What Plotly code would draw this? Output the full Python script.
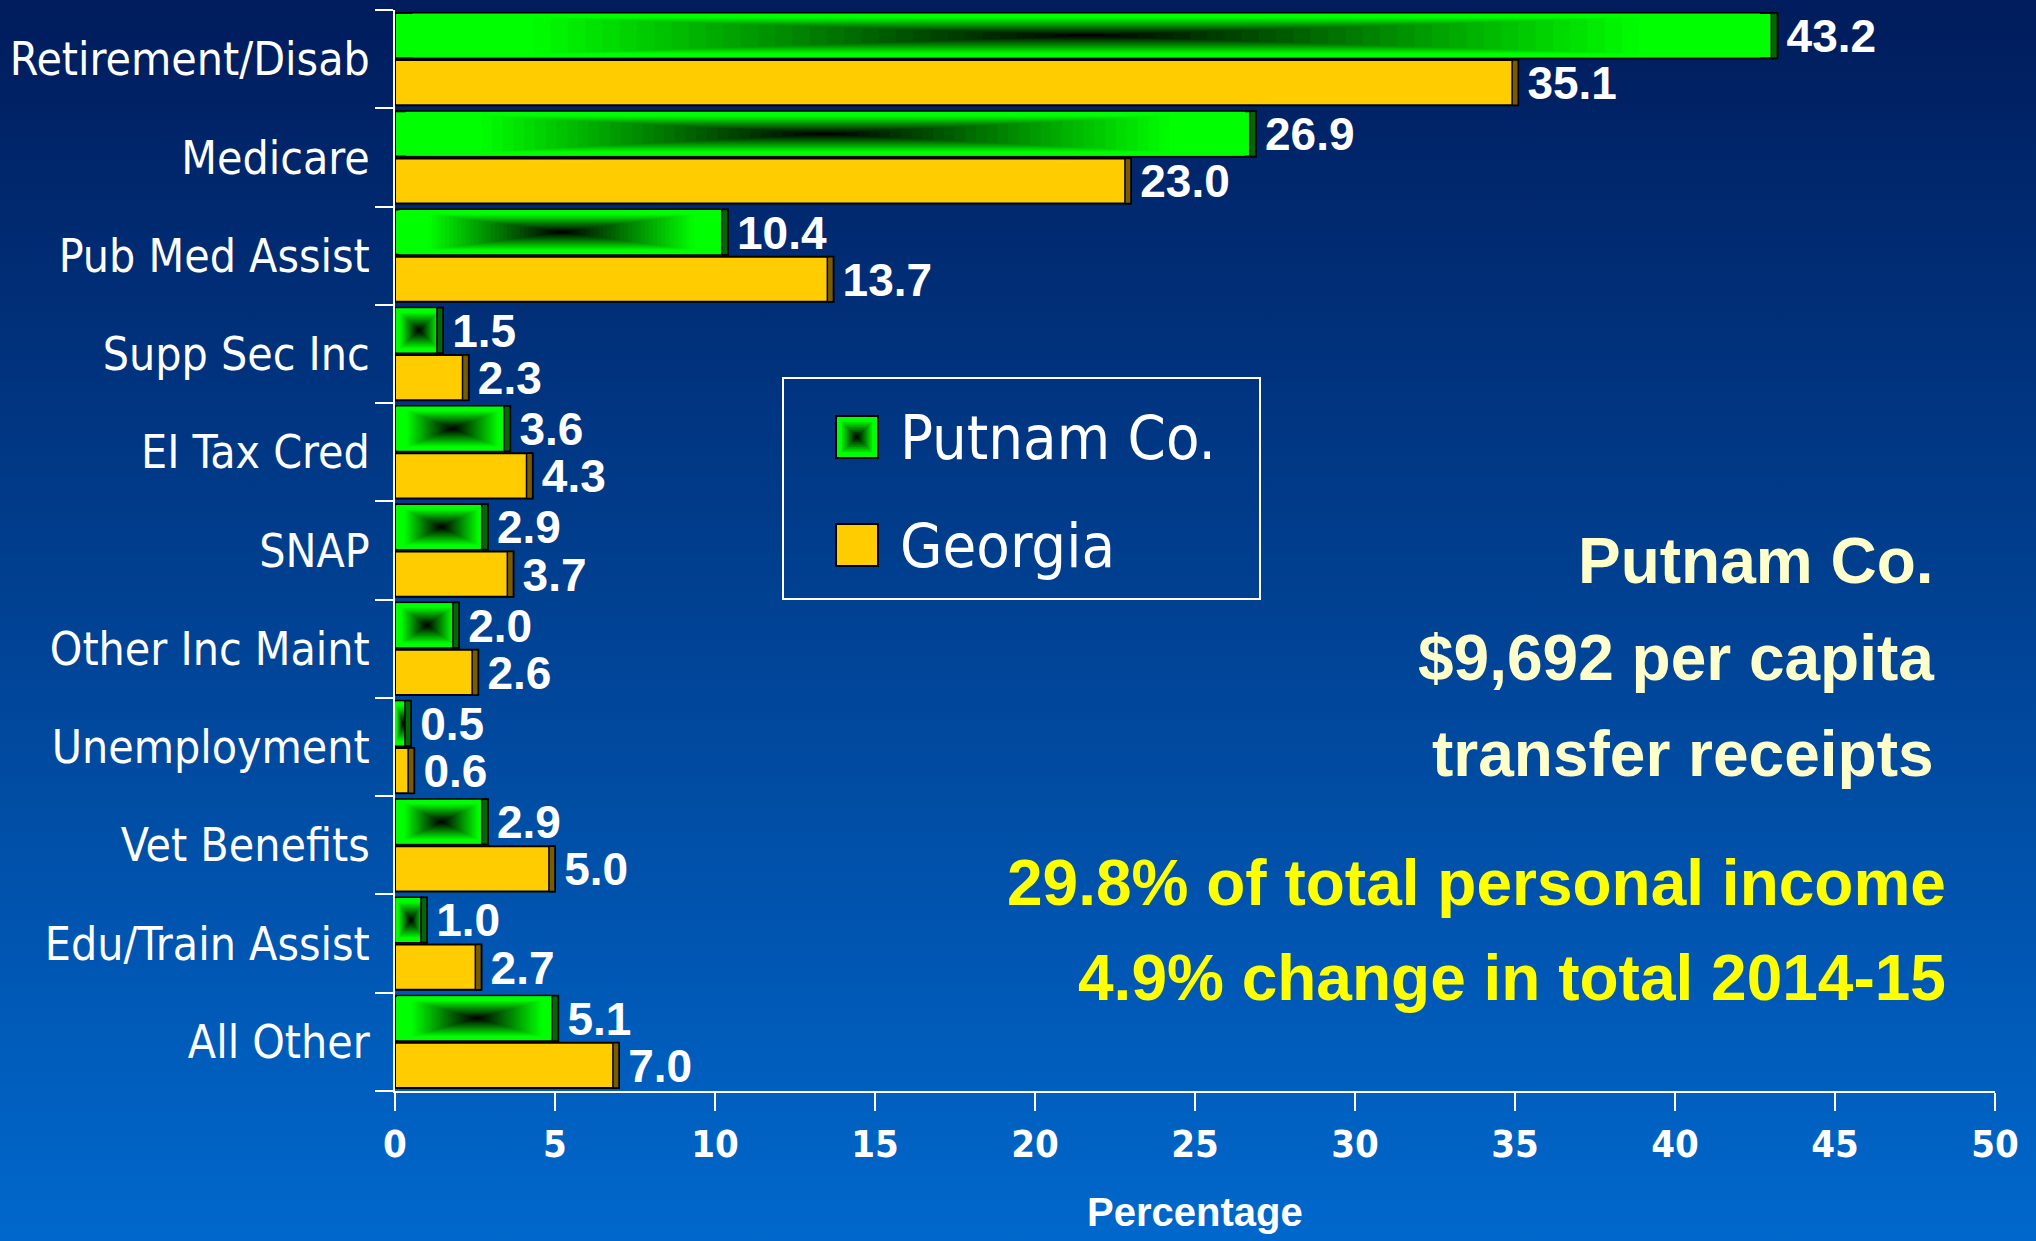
import base64
import plotly.graph_objects as go

# ---- data ----
categories = ['Retirement/Disab', 'Medicare', 'Pub Med Assist', 'Supp Sec Inc',
              'EI Tax Cred', 'SNAP', 'Other Inc Maint', 'Unemployment',
              'Vet Benefits', 'Edu/Train Assist', 'All Other']
putnam = [43.2, 26.9, 10.4, 1.5, 3.6, 2.9, 2.0, 0.5, 2.9, 1.0, 5.1]
georgia = [35.1, 23.0, 13.7, 2.3, 4.3, 3.7, 2.6, 0.6, 5.0, 2.7, 7.0]
x_ticks = list(range(0, 55, 5))
series_names = ['Putnam Co.', 'Georgia']
side_notes = ['Putnam Co.', '$9,692 per capita', 'transfer receipts']
yellow_notes = ['29.8% of total personal income', '4.9% change in total 2014-15']

# ---- layout geometry (pixels) ----
W, H = 2036, 1241
L, R, T, B = 395, 41, 10, 150
PW = W - L - R
PH = H - T - B

NARROW = 'Liberation Sans Narrow, Arial Narrow, DejaVu Sans Condensed, sans-serif'
ARIAL = 'Liberation Sans, Arial, sans-serif'
GREEN = '#00ff00'
GOLD = '#ffcc00'


def px(x):
    return (x - L) / PW


def py(y):
    return (H - B - y) / PH


pos = list(range(len(categories)))
band = 0.46
g_center = -0.24
y_center = 0.24
cap = 0.19
n_layers = 40
label_drop = 0.05

fig = go.Figure()

# green bars with a dark "from centre" gradient built from stacked bars
fig.add_trace(go.Bar(y=pos, x=putnam, orientation='h', offset=g_center - band / 2,
                     width=band, marker=dict(color=GREEN, line=dict(color='black', width=2)),
                     name=series_names[0], showlegend=False, hoverinfo='skip'))
for k in range(1, n_layers):
    s = 1 - k / n_layers
    g = int(255 * min(1.0, 1.25 * (s - 0.5 / n_layers)))
    fig.add_trace(go.Bar(y=pos, x=[v * s for v in putnam], base=[v * (1 - s) / 2 for v in putnam],
                         orientation='h', offset=g_center - band * s / 2, width=band * s,
                         marker=dict(color=f'rgb(0,{g},0)', line=dict(width=0)),
                         showlegend=False, hoverinfo='skip'))
fig.add_trace(go.Bar(y=pos, x=[cap] * len(pos), base=[v - cap for v in putnam], orientation='h',
                     offset=g_center - band / 2, width=band,
                     marker=dict(color='#006a00', line=dict(color='black', width=1.5)),
                     showlegend=False, hoverinfo='skip'))

# gold bars
fig.add_trace(go.Bar(y=pos, x=georgia, orientation='h', offset=y_center - band / 2,
                     width=band, marker=dict(color=GOLD, line=dict(color='black', width=2)),
                     name=series_names[1], showlegend=False, hoverinfo='skip'))
fig.add_trace(go.Bar(y=pos, x=[cap] * len(pos), base=[v - cap for v in georgia], orientation='h',
                     offset=y_center - band / 2, width=band,
                     marker=dict(color='#7a5c00', line=dict(color='black', width=1.5)),
                     showlegend=False, hoverinfo='skip'))

# value labels
for vals, c in [(putnam, g_center), (georgia, y_center)]:
    fig.add_trace(go.Scatter(x=vals, y=[p + c + label_drop for p in pos], mode='text',
                             text=['\u2009' + f'{v:.1f}' for v in vals], textposition='middle right',
                             textfont=dict(family=ARIAL, size=46, color='white', weight='bold'),
                             showlegend=False, hoverinfo='skip', cliponaxis=False))

# background gradient
svg = ('<svg xmlns="http://www.w3.org/2000/svg" width="100" height="100" preserveAspectRatio="none">'
       '<defs><linearGradient id="g" x1="0" y1="0" x2="0" y2="1">'
       '<stop offset="0" stop-color="#001c5c"/><stop offset="1" stop-color="#0068cc"/>'
       '</linearGradient></defs><rect width="100" height="100" fill="url(#g)"/></svg>')
bg = 'data:image/svg+xml;base64,' + base64.b64encode(svg.encode()).decode()

shapes = []
# legend box
shapes.append(dict(type='rect', xref='paper', yref='paper', x0=px(783), x1=px(1260),
                   y0=py(599), y1=py(378), line=dict(color='white', width=2)))
# legend swatches
shapes.append(dict(type='rect', xref='paper', yref='paper', x0=px(836), x1=px(878),
                   y0=py(458), y1=py(416), fillcolor=GREEN, line=dict(color='black', width=2)))
for k in range(1, 12):
    s = 1 - k / 12
    g = int(255 * min(1.0, 1.25 * (s - 0.5 / 12)))
    half = 20 * s
    shapes.append(dict(type='rect', xref='paper', yref='paper', x0=px(857 - half), x1=px(857 + half),
                       y0=py(437 + half), y1=py(437 - half), fillcolor=f'rgb(0,{g},0)',
                       line=dict(width=0)))
shapes.append(dict(type='rect', xref='paper', yref='paper', x0=px(836), x1=px(878),
                   y0=py(566), y1=py(524), fillcolor=GOLD, line=dict(color='black', width=2)))

annotations = []
for name, yy in zip(series_names, [437, 545]):
    annotations.append(dict(text=name, xref='paper', yref='paper', x=px(898), y=py(yy),
                            xanchor='left', yanchor='middle', showarrow=False,
                            font=dict(family=NARROW, size=61, color='white')))
for txt, yy in zip(side_notes, [561, 658, 754]):
    annotations.append(dict(text=txt, xref='paper', yref='paper', x=px(1936), y=py(yy),
                            xanchor='right', yanchor='middle', showarrow=False,
                            font=dict(family=ARIAL, size=64, color='#ffffcc', weight='bold')))
for txt, yy in zip(yellow_notes, [883, 978]):
    annotations.append(dict(text=txt, xref='paper', yref='paper', x=px(1948), y=py(yy),
                            xanchor='right', yanchor='middle', showarrow=False,
                            font=dict(family=ARIAL, size=64, color='#ffff00', weight='bold')))
annotations.append(dict(text='Percentage', xref='paper', yref='paper', x=0.5, y=py(1212),
                        xanchor='center', yanchor='middle', showarrow=False,
                        font=dict(family=ARIAL, size=40, color='white', weight='bold')))

fig.update_layout(
    width=W, height=H,
    margin=dict(l=L, r=R, t=T, b=B, pad=0, autoexpand=False),
    barmode='overlay',
    paper_bgcolor='#0046a0',
    plot_bgcolor='rgba(0,0,0,0)',
    showlegend=False,
    images=[dict(source=bg, xref='paper', yref='paper', x=-L / PW, y=1 + T / PH,
                 sizex=W / PW, sizey=H / PH, sizing='stretch', layer='below',
                 xanchor='left', yanchor='top')],
    shapes=shapes,
    annotations=annotations,
    xaxis=dict(range=[0, 50], tickvals=x_ticks, showgrid=False, zeroline=False,
               showline=True, linecolor='white', linewidth=2, automargin=False,
               ticks='outside', ticklen=18, tickwidth=2, tickcolor='white',
               ticklabelstandoff=0,
               tickfont=dict(family=NARROW, size=38, color='white', weight='bold')),
    yaxis=dict(range=[len(categories) - 0.5, -0.5], tickvals=pos, ticktext=categories,
               showgrid=False, zeroline=False, showline=True, linecolor='white', linewidth=2,
               automargin=False, ticks='', ticklabelstandoff=14,
               tickfont=dict(family=NARROW, size=46, color='white'),
               minor=dict(tickvals=[p - 0.5 for p in pos] + [len(pos) - 0.5], ticks='outside',
                          ticklen=18, tickwidth=2, tickcolor='white')),
)

# drop the page's default body margin so the chart fills the window exactly
fig.write_html('out.html', config={'displayModeBar': False},
               post_script="document.body.style.margin='0';"
                           "document.body.style.overflow='hidden';")
